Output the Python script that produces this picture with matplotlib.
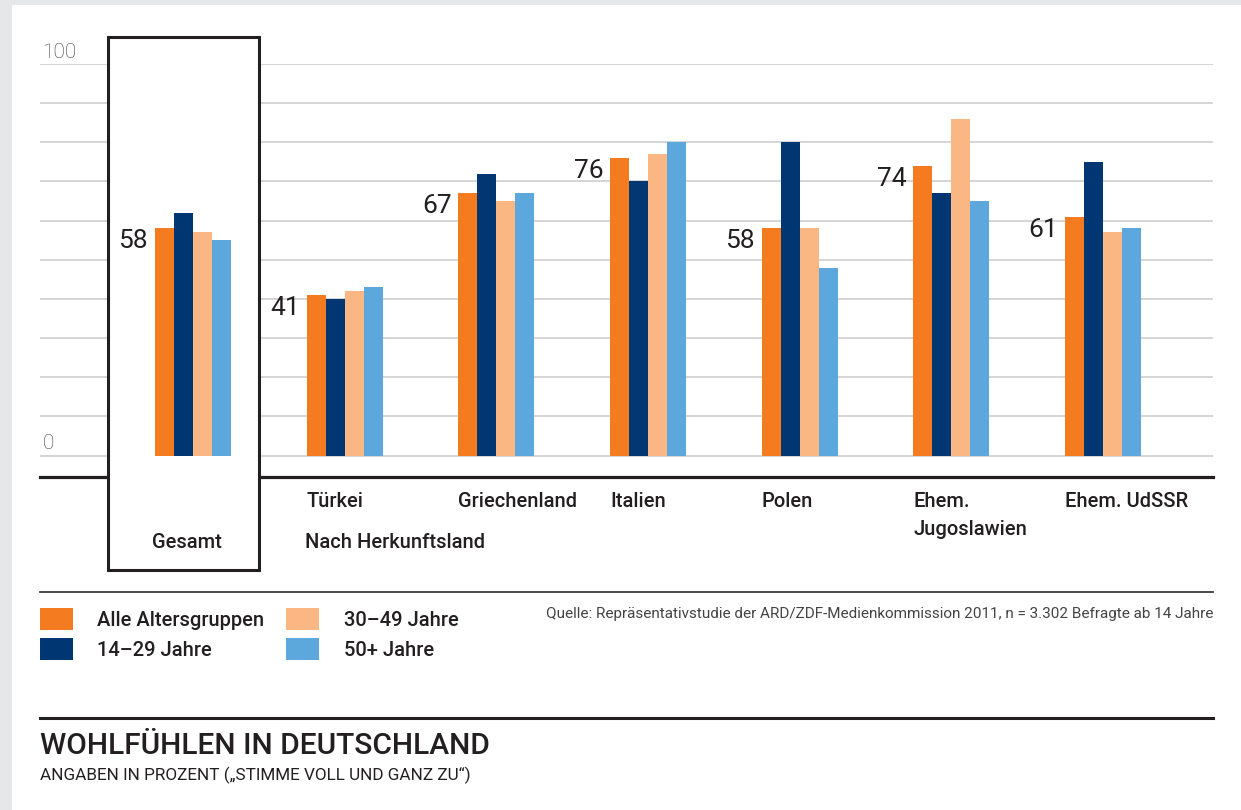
import numpy as np
import matplotlib
matplotlib.use("Agg")
import matplotlib.pyplot as plt
from matplotlib import transforms
from matplotlib.patches import Rectangle, Patch
from matplotlib.lines import Line2D

plt.rcParams['font.family'] = ['Roboto', 'DejaVu Sans']

# data
groups = ["Gesamt", "Türkei", "Griechenland", "Italien", "Polen", "Ehem.\nJugoslawien", "Ehem. UdSSR"]
series = ["Alle Altersgruppen", "14\u201329 Jahre", "30\u201349 Jahre", "50+ Jahre"]
alle = [58, 41, 67, 76, 58, 74, 61]
jung = [62, 40, 72, 70, 80, 67, 75]
mittel = [57, 42, 65, 77, 58, 86, 57]
alt = [55, 43, 67, 80, 48, 65, 58]
colors = ["#f47b20", "#003773", "#fab784", "#5ca8dc"]
yticks = np.arange(0, 101, 10)

W, H = 1241, 810
fig = plt.figure(figsize=(W / 100, H / 100), dpi=100, facecolor="#e6e7e9")
fig.add_artist(Rectangle((12 / W, 0), 1, 1 - 5 / H, transform=fig.transFigure,
                         facecolor="white", edgecolor="none", zorder=0))

# axes: x 40..1213 px, y 64 (100) .. 477 (axis line)
px_per_unit = 3.915
ybot = -(477 - 455.5) / px_per_unit
ax = fig.add_axes([40 / W, 1 - 477 / H, (1213 - 40) / W, (477 - 64) / H])
ax.set_facecolor("none")
spacing = 151.7
ax.set_xlim(-(193 - 40) / spacing, 6 + (1213 - 1103) / spacing)
ax.set_ylim(ybot, 100)

x = np.arange(len(groups))
w = 19 / spacing
data = [alle, jung, mittel, alt]
for k, vals in enumerate(data):
    ax.bar(x + (k - 1.5) * w, vals, width=w, color=colors[k], zorder=3,
           label=series[k], linewidth=0)

ax.set_yticks(yticks)
ax.yaxis.grid(True, color="#cacaca", linewidth=1.1)
ax.set_axisbelow(True)
ax.tick_params(length=0, labelleft=False, labelbottom=False)
ax.set_xticks([])
for s in ["top", "left", "right"]:
    ax.spines[s].set_visible(False)
ax.spines["bottom"].set_color("#231f20")
ax.spines["bottom"].set_linewidth(2.3)

# y labels 0 and 100 above the gridlines
ytr = transforms.blended_transform_factory(ax.transAxes, ax.transData)
for v in [0, 100]:
    ax.text(0.002, v + 0.6, str(v), transform=ytr,
            ha="left", va="bottom", fontsize=15, fontweight="light", color="#404040")

# value labels of "Alle Altersgruppen"
for i, v in enumerate(alle):
    ax.text(x[i] - 2 * w - 0.045, v - 3.3, str(v), ha="right", va="center",
            fontsize=19, color="#231f20", zorder=4)

# box around Gesamt
box = Rectangle((-0.56, -(570 - 455.5) / px_per_unit), 0.995,
                (570 - 37) / px_per_unit, facecolor="white", edgecolor="#231f20",
                linewidth=2.2, zorder=2.6, clip_on=False)
ax.add_patch(box)

# category labels
tr = transforms.blended_transform_factory(ax.transData, fig.transFigure)
lab = dict(fontsize=14.5, fontweight="medium", color="#231f20")
for i, g in enumerate(groups):
    if i == 0:
        ax.text(x[i] - 2 * w - 0.02, 1 - 543 / H, g, transform=tr, ha="left", va="center",
                zorder=5, **lab)
    else:
        ax.text(x[i] - 2 * w, 1 - 492 / H, g, transform=tr, ha="left", va="top",
                linespacing=1.6, **lab)
ax.text(x[1] - 2 * w - 0.01, 1 - 543 / H, "Nach Herkunftsland", transform=tr, ha="left",
        va="center", **lab)

# separator lines
fig.add_artist(Line2D([40 / W, 1213 / W], [1 - 592 / H] * 2, transform=fig.transFigure,
                      color="#3a3a3a", linewidth=1.3))
fig.add_artist(Line2D([40 / W, 1213 / W], [1 - 718 / H] * 2, transform=fig.transFigure,
                      color="#231f20", linewidth=2.2))

# legend
handles = [Patch(facecolor=c, edgecolor="none") for c in colors]
fig.legend(handles, series, loc="upper left", bbox_to_anchor=(40 / W, 1 - 608 / H),
           ncol=2, frameon=False, prop={"weight": "medium", "size": 14.5},
           handlelength=1.64, handleheight=1.31, handletextpad=1.2, labelspacing=0.4,
           columnspacing=1.1, borderpad=0, borderaxespad=0, labelcolor="#231f20")

fig.text(1213 / W, 1 - 614 / H,
         "Quelle: Repräsentativstudie der ARD/ZDF-Medienkommission 2011, n = 3.302 Befragte ab 14 Jahre",
         ha="right", va="center", fontsize=11, color="#444444")

fig.text(40 / W, 1 - 746 / H, "WOHLFÜHLEN IN DEUTSCHLAND", ha="left", va="center",
         fontsize=21.5, fontweight="medium", color="#231f20")
fig.text(40 / W, 1 - 775 / H, "ANGABEN IN PROZENT (\u201eSTIMME VOLL UND GANZ ZU\u201c)",
         ha="left", va="center", fontsize=12.3, color="#231f20")

fig.savefig("out.png", dpi=100, facecolor=fig.get_facecolor())
